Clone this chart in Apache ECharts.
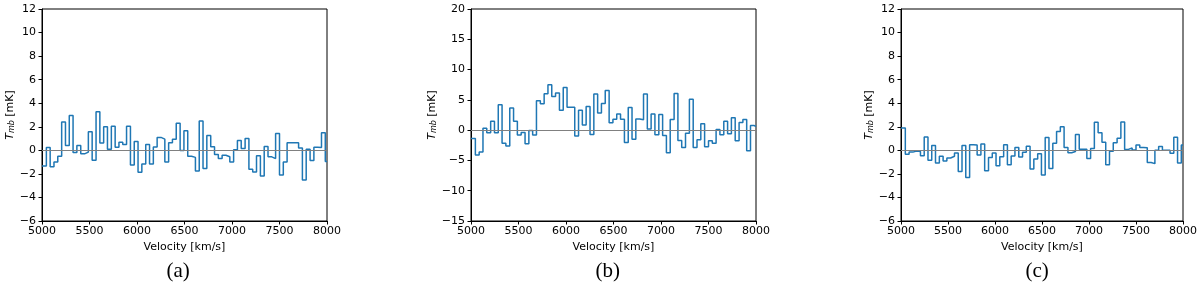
<!DOCTYPE html>
<html>
<head>
<meta charset="utf-8">
<script src="https://cdn.jsdelivr.net/npm/echarts@6/dist/echarts.min.js"></script>
<style>
html,body{margin:0;padding:0;background:#fff;}
#chart{width:1200px;height:287px;}
</style>
</head>
<body>
<div id="chart"></div>
<script>
// Channel left edges (km/s), shared by all three spectra
const velocityEdges = [5000, 5046, 5086, 5126, 5166, 5207, 5247, 5287, 5327, 5367, 5408, 5448, 5488, 5528, 5569, 5609, 5649, 5689, 5730, 5770, 5810, 5850, 5890, 5931, 5971, 6011, 6051, 6092, 6132, 6172, 6212, 6253, 6293, 6333, 6373, 6413, 6454, 6494, 6534, 6574, 6615, 6655, 6695, 6735, 6776, 6816, 6856, 6896, 6936, 6977, 7017, 7057, 7097, 7138, 7178, 7218, 7258, 7299, 7339, 7379, 7419, 7459, 7500, 7540, 7580, 7620, 7661, 7701, 7741, 7781, 7822, 7862, 7902, 7942, 7982];
const velocityEnd = 8000;

// T_mb (mK) per channel
const panelA = [-1.33, 0.25, -1.4, -1.0, -0.5, 2.4, 0.4, 2.95, -0.18, 0.42, -0.3, -0.15, 1.57, -0.85, 3.28, 0.62, 2.0, 0.1, 2.05, 0.27, 0.68, 0.5, 2.05, -1.25, 0.75, -1.87, -1.17, 0.5, -1.15, 0.28, 1.1, 0.95, -1.0, 0.65, 0.95, 2.3, -0.02, 1.67, -0.5, -0.6, -1.75, 2.5, -1.55, 1.27, 0.3, -0.35, -0.7, -0.42, -0.55, -0.98, 0.05, 0.83, 0.15, 1.0, -1.6, -1.85, -0.45, -2.17, 0.32, -0.55, -0.7, 1.42, -2.1, -0.98, 0.65, 0.65, 0.65, 0.2, -2.52, 0.1, -0.87, 0.27, 0.25, 1.5, -0.95];
const panelB = [-1.4, -4.1, -3.6, 0.3, -0.45, 1.45, -0.45, 4.2, -2.15, -2.6, 3.65, 1.45, -0.8, -0.4, -2.25, -0.05, -0.8, 4.85, 4.35, 6.0, 7.5, 5.55, 6.15, 3.3, 7.05, 3.8, 3.8, -0.95, 3.3, 0.85, 3.9, -0.7, 5.95, 2.85, 4.4, 6.55, 1.2, 1.8, 2.65, 1.8, -2.05, 3.75, -1.5, 1.85, 1.7, 5.95, 0.2, 2.65, -0.75, 2.6, -0.9, -3.75, 1.75, 6.05, -1.7, -2.85, -0.5, 5.1, -2.85, -1.6, 1.05, -2.75, -1.75, -2.15, 0.1, -0.75, 1.45, -0.6, 2.05, -1.75, 1.25, 1.75, -3.4, 0.75, 0.6];
const panelC = [1.9, -0.34, -0.15, -0.05, -0.1, -0.45, 1.13, -0.85, 0.42, -1.08, -0.5, -0.9, -0.65, -0.5, -0.23, -1.8, 0.42, -2.3, 0.48, 0.45, -0.4, 0.54, -1.73, -0.6, -0.23, -1.3, -0.54, 0.48, -1.22, -0.48, 0.25, -0.57, -0.17, 0.34, -1.59, -0.74, -0.3, -2.1, 1.1, -1.55, 0.6, 1.6, 2.0, 0.25, -0.2, -0.1, 1.35, 0.1, 0.1, -0.7, 0.15, 2.38, 1.5, 0.68, -1.22, -0.08, 0.65, 1.02, 2.4, 0.08, 0.2, 0.03, 0.45, 0.25, 0.22, -1.03, -1.13, 0, 0.32, 0, 0, -0.25, 1.12, -1.08, 0.45];

const captions = ['(a)', '(b)', '(c)'];
const yRanges = [[-6, 12, 2], [-15, 20, 5], [-6, 12, 2]];
const xRange = [5000, 8000, 500];
const xTitle = 'Velocity [km/s]';

const panels = [panelA, panelB, panelC];
const gridLefts = [42, 471, 901];
const gridW = 285, gridTop = 9, gridH = 212;
const FONT = 'DejaVu Sans';

function stepData(vals) {
  const d = velocityEdges.map((v, i) => [v, vals[i]]);
  d.push([velocityEnd, vals[vals.length - 1]]);
  return d;
}
function fmt(v) { return v < 0 ? '\u2212' + Math.abs(v) : String(v); }

const grid = [], xAxis = [], yAxis = [], series = [], graphic = [];
panels.forEach((vals, i) => {
  grid.push({left: gridLefts[i], top: gridTop, width: gridW, height: gridH,
    show: true, borderColor: '#000', borderWidth: 1, backgroundColor: 'transparent'});
  xAxis.push({type: 'value', gridIndex: i, min: xRange[0], max: xRange[1], interval: xRange[2],
    axisLine: {show: true, onZero: false, lineStyle: {color: '#000', width: 1}},
    axisTick: {show: true, length: 3.5, lineStyle: {color: '#000'}},
    axisLabel: {color: '#000', fontFamily: FONT, fontSize: 11, margin: 5, formatter: v => String(v)},
    splitLine: {show: false},
    name: xTitle, nameLocation: 'middle', nameGap: 19,
    nameTextStyle: {color: '#000', fontFamily: FONT, fontSize: 11}});
  const yr = yRanges[i];
  yAxis.push({type: 'value', gridIndex: i, min: yr[0], max: yr[1], interval: yr[2],
    axisLine: {show: true, lineStyle: {color: '#000', width: 1}},
    axisTick: {show: true, length: 3.5, lineStyle: {color: '#000'}},
    axisLabel: {color: '#000', fontFamily: FONT, fontSize: 11, margin: 6, formatter: fmt},
    splitLine: {show: false},
    name: '{i|T}{s|mb}{n| [mK]}', nameLocation: 'middle', nameGap: i === 1 ? 27 : 22, nameRotate: 90,
    nameTextStyle: {color: '#000', fontFamily: FONT, fontSize: 11,
      rich: {
        i: {fontStyle: 'italic', fontFamily: FONT, fontSize: 11, color: '#000', verticalAlign: 'bottom', lineHeight: 14},
        s: {fontStyle: 'italic', fontFamily: FONT, fontSize: 8, color: '#000', verticalAlign: 'bottom', lineHeight: 14, padding: [4, 0, 0, 0]},
        n: {fontFamily: FONT, fontSize: 11, color: '#000', verticalAlign: 'bottom', lineHeight: 14}
      }}});
  series.push({type: 'line', xAxisIndex: i, yAxisIndex: i, step: 'end', data: stepData(vals),
    showSymbol: false, symbol: 'none', clip: true, animation: false,
    lineStyle: {color: '#1f77b4', width: 1.5},
    markLine: {silent: true, symbol: 'none', animation: false, label: {show: false},
      lineStyle: {color: '#808080', width: 1.2, type: 'solid'},
      data: [{yAxis: 0}]}});
  graphic.push({type: 'text', left: gridLefts[i] + gridW / 2 - 6 - 12, top: 261,
    style: {text: captions[i], fontFamily: 'Liberation Serif', fontSize: 21, fill: '#000'}});
});

const chart = echarts.init(document.getElementById('chart'), null, {renderer: 'canvas'});
chart.setOption({animation: false, grid, xAxis, yAxis, series, graphic});
</script>
</body>
</html>
